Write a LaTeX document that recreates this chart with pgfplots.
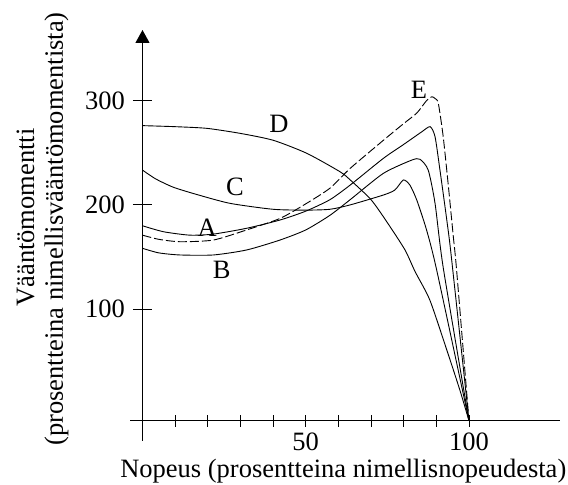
\documentclass[border=0pt]{standalone}
\usepackage{fontspec}
\setmainfont{Liberation Serif}
\usepackage{pgfplots}
\pgfplotsset{compat=1.18}
\usetikzlibrary{arrows.meta}

\begin{document}
\begin{tikzpicture}
\begin{axis}[
  x=3.265pt, y=1.043pt,
  xmin=0, xmax=128, ymin=-7, ymax=367.7,
  axis x line=bottom, axis y line=left,
  x axis line style={-, line width=1.1pt},
  y axis line style={-{Triangle[width=14pt,length=13pt]}, line width=1.1pt},
  clip=false,
  tick align=center,
  major tick length=12pt,
  every tick/.style={black, line width=0.9pt},
  xtick={10,20,...,100},
  xticklabels={{},{},{},{},50,{},{},{},{},100},
  ytick=\empty,
  extra y ticks={100,200,300},
  extra y tick style={major tick length=19pt},
  /pgf/number format/assume math mode=true,
  tick label style={font=\fontsize{26.5}{28}\selectfont},
  xticklabel style={anchor=base, yshift=-24pt},
  yticklabel style={anchor=east, inner sep=0pt, xshift=-8pt},
  cycle list={{black, no markers}},
  every axis plot/.append style={line width=0.9pt, smooth, tension=0.4},
]
% D
\addplot coordinates {(0,276) (10,275) (19.7,273.4) (29.9,268.6) (40,262) (50.3,249.5) (60.5,231.8) (63.6,224) (70,205) (75,183) (80.4,156.8) (83.5,136) (88,108.8) (93.2,60.9) (97.2,22.5) (100,-7)};
% C
\addplot coordinates {(0,233.4) (4,225) (9.4,217) (16.6,210) (26.8,201.5) (40,195.8) (50,195) (57.4,195.8) (63.6,200) (73.8,209.5) (77.3,214.3) (79.9,223.9) (81.9,219) (84,204.7) (87,176) (90.1,137.6) (100,-7)};
% A
\addplot coordinates {(0,180) (6.4,174.3) (14.5,171) (21.7,172) (31.9,177.6) (42.1,185.5) (50,194) (57.4,205) (63.6,219) (73.8,244.7) (80,258) (85.5,270) (88.1,275) (89.6,265.4) (91.1,233.5) (93.2,185.5) (94.6,150) (100,-7)};
% B
\addplot coordinates {(0,158.4) (5,154) (11.5,152) (21.7,152) (31.9,156.8) (42.1,166.3) (50,176) (57.4,190) (63.6,205) (73.8,230.3) (82.5,243) (85,243.7) (87.5,233.5) (89.6,201.5) (92.1,140) (100,-7)};
% E
\addplot+[dash pattern=on 9pt off 3pt] coordinates {(0,171) (5,167) (11.5,164.7) (21.7,166.3) (31.9,176) (42.1,187) (50,201) (57.4,216) (63.6,235) (73.8,262) (80,278) (84,288) (87,300) (88.6,303.7) (89.6,302) (90.6,297.4) (92.1,265.4) (93.7,217.5) (95.2,169.5) (96.2,137.6) (100,-7)};

\draw[line width=1.1pt] (axis cs:-3.8,-7) -- (axis cs:0,-7);
\draw[line width=1.1pt] (axis cs:0,-7) -- (axis cs:0,-26.4);

\begin{scope}[font=\fontsize{26.5}{28}\selectfont]
\node at (axis cs:19.8,177.8) {A};
\node at (axis cs:24.3,137.6) {B};
\node at (axis cs:28.3,217.2) {C};
\node at (axis cs:41.8,277.6) {D};
\node at (axis cs:84.7,310.2) {E};
\node[anchor=base] at (axis cs:61.5,-60.9) {Nopeus (prosentteina nimellisnopeudesta)};
\node[anchor=base, rotate=90] at (axis cs:-33.2,187.9) {Vääntömomentti};
\node[anchor=base, rotate=90] at (axis cs:-24.35,176.9) {(prosentteina nimellisvääntömomentista)};
\end{scope}

\coordinate (tl) at (axis cs:-43.64,396.45);
\coordinate (br) at (axis cs:130.32,-67.6);
\end{axis}
\pgfresetboundingbox
\useasboundingbox (tl) rectangle (br);
\end{tikzpicture}
\end{document}
